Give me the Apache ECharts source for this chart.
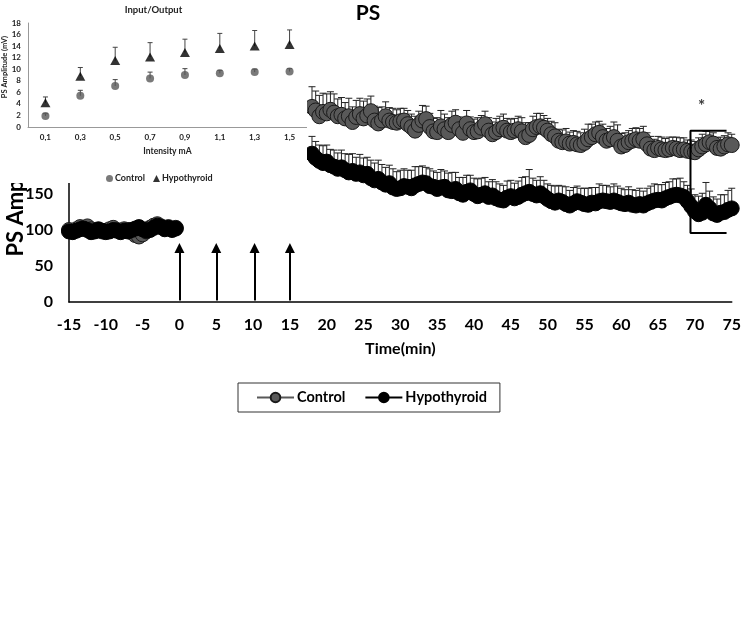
<!DOCTYPE html>
<html><head><meta charset="utf-8">
<script src="https://cdn.jsdelivr.net/npm/echarts@6/dist/echarts.min.js"></script>
<style>
html,body{margin:0;padding:0;background:#fff;}
#main{position:absolute;left:0;top:0;width:744px;height:633px;}
#inset{position:absolute;left:0;top:0;width:307px;height:183px;background:#fff;}
</style></head><body>
<div id="main"></div><div id="inset"></div>
<script>
const FONT = 'Lato';

// ---------- main chart data ----------
const baseTimes = [-15,-14.5,-14,-13.5,-13,-12.5,-12,-11.5,-11,-10.5,-10,-9.5,-9,-8.5,-8,-7.5,-7,-6.5,-6,-5.5,-5,-4.5,-4,-3.5,-3,-2.5,-2,-1.5,-1,-0.5];
const controlBase = [100,98,101,104,103,105,101,99,100,98,99,101,103,100,99,101,100,97,93,91,94,98,103,106,108,105,102,104,101,103];
const hypoBase = [98,97,99,101,102,100,97,98,101,99,97,98,100,99,97,99,98,100,102,104,101,99,100,103,106,104,101,103,100,102];
const controlBaseErr = [4,3,4,5,4,3,4,4,3,4,5,4,3,4,4,3,4,5,4,4,3,4,5,4,4,3,4,4,5,4];
const hypoBaseErr = [3,4,3,4,5,4,3,4,4,3,4,3,4,5,4,3,4,4,3,4,5,4,3,4,4,5,4,3,4,4];

const postTimes = [18,18.5,19,19.5,20,20.5,21,21.5,22,22.5,23,23.5,24,24.5,25,25.5,26,26.5,27,27.5,28,28.5,29,29.5,30,30.5,31,31.5,32,32.5,33,33.5,34,34.5,35,35.5,36,36.5,37,37.5,38,38.5,39,39.5,40,40.5,41,41.5,42,42.5,43,43.5,44,44.5,45,45.5,46,46.5,47,47.5,48,48.5,49,49.5,50,50.5,51,51.5,52,52.5,53,53.5,54,54.5,55,55.5,56,56.5,57,57.5,58,58.5,59,59.5,60,60.5,61,61.5,62,62.5,63,63.5,64,64.5,65,65.5,66,66.5,67,67.5,68,68.5,69,69.5,70,70.5,71,71.5,72,72.5,73,73.5,74,74.5,75];
const controlPost = [
 271,266,258,264,262,267,263,258,
 260,255,258,250,257,261,255,259,
 265,252,248,252,258,252,250,249,
 251,252,247,243,238,246,252,254,
 243,237,236,244,240,236,246,249,
 240,235,248,240,236,237,242,247,
 238,233,236,240,242,238,236,238,
 240,237,229,232,240,243,244,242,
 238,233,230,224,222,223,220,221,
 219,218,221,226,229,233,235,229,
 224,226,229,224,216,218,222,224,
 226,224,226,219,213,211,214,212,
 211,212,214,213,211,212,210,209,
 208,212,216,219,222,220,214,213,
 216,219,218];
const hypoPost = [
 206,200,196,193,195,190,188,185,
 187,183,180,182,178,180,176,178,
 172,169,171,166,163,165,159,157,
 158,161,160,158,162,164,166,165,
 161,160,157,159,160,155,154,157,
 151,149,153,155,150,147,149,151,
 146,148,144,142,141,145,147,144,
 146,149,151,153,150,148,151,147,
 143,140,138,141,139,136,134,137,
 140,138,136,135,138,137,140,141,
 140,139,141,139,137,136,138,135,
 134,136,134,137,139,141,142,141,
 144,146,148,149,148,146,140,133,
 126,122,124,135,130,123,121,124,
 125,128,130];
const controlPostErr = [
 28,27,29,26,27,25,26,24,
 24,22,25,21,23,22,24,23,
 21,20,22,19,20,18,19,18,
 18,17,19,18,20,19,21,18,
 19,18,20,22,21,20,19,18,
 17,19,18,17,18,19,17,18,
 18,17,19,18,19,17,18,17,
 18,19,20,17,18,19,18,17,
 17,18,19,16,17,18,16,17,
 18,17,19,21,18,17,16,18,
 17,18,21,22,18,17,16,17,
 16,17,18,16,17,15,16,17,
 16,17,15,16,17,16,15,16,
 15,16,17,18,16,15,14,16,
 15,16,15];
const hypoPostErr = [
 24,23,22,24,23,22,23,22,
 24,23,25,24,23,25,24,23,
 25,24,26,25,24,25,26,24,
 25,24,23,25,26,24,23,22,
 24,22,23,25,22,24,26,23,
 22,24,23,21,22,24,23,22,
 21,22,23,22,21,23,22,21,
 22,24,23,31,22,21,23,22,
 21,22,23,21,22,24,21,22,
 21,20,22,23,21,22,24,21,
 22,21,23,22,21,20,22,21,
 21,22,20,21,22,23,21,22,
 22,21,23,22,24,21,22,24,
 23,25,27,31,24,23,22,25,
 24,27,28];

const stimTimes = [0, 5, 10.2, 15];        // HFS arrows
const arrowRange = [2, 75];                // arrow shaft from/to (PS amp units)
const sigBracket = {x0: 69.4, x1: 74.3, top: 238, bottom: 96};
const sigStar = [70.9, 272];

// ---------- inset data ----------
const intensityLabels = ['0,1','0,3','0,5','0,7','0,9','1,1','1,3','1,5'];
const ioControl = [1.9, 5.4, 7.1, 8.4, 9.0, 9.3, 9.5, 9.6];
const ioControlErr = [0.4, 0.95, 1.1, 1.1, 1.1, 0.5, 0.5, 0.5];
const ioHypo = [4.2, 8.8, 11.5, 12.1, 12.9, 13.6, 14.0, 14.3];
const ioHypoErr = [1.0, 1.5, 2.3, 2.5, 2.3, 2.6, 2.7, 2.5];

// ---------- helpers ----------
function errRender(capHalf, color, lw){
  return function(params, api){
    const x = api.value(0), y = api.value(1), e = api.value(2);
    const p0 = api.coord([x, y]);
    const p1 = api.coord([x, y + e]);
    return {type:'group', children:[
      {type:'line', shape:{x1:p0[0],y1:p0[1],x2:p1[0],y2:p1[1]}, style:{stroke:color, lineWidth:lw}},
      {type:'line', shape:{x1:p1[0]-capHalf,y1:p1[1],x2:p1[0]+capHalf,y2:p1[1]}, style:{stroke:color, lineWidth:lw}}
    ]};
  };
}
function pairs(times, vals){ return times.map((t,i)=>[t, vals[i]]); }
function triples(times, vals, errs){ return times.map((t,i)=>[t, vals[i], errs[i]]); }

const controlErrData = triples(baseTimes, controlBase, controlBaseErr).concat(triples(postTimes, controlPost, controlPostErr));
const hypoErrData = triples(baseTimes, hypoBase, hypoBaseErr).concat(triples(postTimes, hypoPost, hypoPostErr));

const boldTxt = (size, color) => ({fontFamily:FONT, fontWeight:'bold', fontSize:size, color:color||'#000'});

const ctrlStyle = {symbol:'circle', symbolSize:15, showAllSymbol:true,
  itemStyle:{color:'#595959', borderColor:'#1a1a1a', borderWidth:1}, lineStyle:{color:'#595959', width:3.5}, z:3};
const hypoStyle = {symbol:'circle', symbolSize:15, showAllSymbol:true,
  itemStyle:{color:'#000', borderColor:'#000', borderWidth:1}, lineStyle:{color:'#000', width:3.5}, z:4};

const mainChart = echarts.init(document.getElementById('main'));
mainChart.setOption({
  animation:false,
  grid:{left:69, right:11, top:86, bottom:331},
  xAxis:{type:'value', min:-15, max:75, interval:5,
    axisLine:{onZero:false, lineStyle:{color:'#000', width:1.5}}, axisTick:{show:false}, splitLine:{show:false},
    axisLabel:Object.assign({margin:15}, boldTxt(16)),
    name:'Time(min)', nameLocation:'middle', nameGap:39, nameTextStyle:boldTxt(16)},
  yAxis:{type:'value', min:0, max:300, interval:50,
    axisLine:{show:true, onZero:false, lineStyle:{color:'#000', width:1.5}}, axisTick:{show:false}, splitLine:{show:false},
    axisLabel:Object.assign({margin:16}, boldTxt(16))},
  legend:{data:['Control','Hypothyroid'], left:238, top:383, padding:[7,13,7,18], itemGap:19,
    itemWidth:37, itemHeight:12, borderColor:'#333', borderWidth:1,
    textStyle:Object.assign({padding:[0,0,0,-2]}, boldTxt(14.5))},
  graphic:[
    {type:'text', x:368, y:13, style:{text:'PS', font:'bold 21px '+FONT, fill:'#000', align:'center', verticalAlign:'middle'}},
    {type:'text', x:16, y:218, rotation:Math.PI/2, style:{text:'PS Amp', font:'bold 22px '+FONT, fill:'#000', align:'center', verticalAlign:'middle'}}
  ],
  series:[
    {type:'custom', name:'ctrlErr', renderItem:errRender(3.5,'#222',1), data:controlErrData, encode:{x:0,y:1}, z:1, silent:true},
    {type:'custom', name:'hypoErr', renderItem:errRender(3.5,'#222',1), data:hypoErrData, encode:{x:0,y:1}, z:1, silent:true},
    Object.assign({type:'line', name:'Control', data:pairs(baseTimes, controlBase)}, ctrlStyle),
    Object.assign({type:'line', name:'Control', data:pairs(postTimes, controlPost)}, ctrlStyle),
    Object.assign({type:'line', name:'Hypothyroid', data:pairs(baseTimes, hypoBase)}, hypoStyle),
    Object.assign({type:'line', name:'Hypothyroid', data:pairs(postTimes, hypoPost)}, hypoStyle),
    {type:'line', name:'bracket', data:[[sigBracket.x1, sigBracket.top],[sigBracket.x0, sigBracket.top],[sigBracket.x0, sigBracket.bottom],[sigBracket.x1, sigBracket.bottom]],
      showSymbol:false, symbol:'none', lineStyle:{color:'#000', width:2}, z:5, silent:true,
      markLine:{silent:true, symbol:['none','triangle'], symbolSize:[10,10], label:{show:false},
        lineStyle:{color:'#000', width:2, type:'solid'},
        emphasis:{disabled:true},
        data: stimTimes.map(t => [{coord:[t, arrowRange[0]]},{coord:[t, arrowRange[1]]}])}},
    {type:'scatter', name:'star', data:[sigStar], symbol:'circle', symbolSize:1, itemStyle:{color:'rgba(0,0,0,0)'},
      label:{show:true, position:'inside', formatter:'*', fontFamily:FONT, fontWeight:'bold', fontSize:17, color:'#000'}, z:6, silent:true}
  ]
});

const insetChart = echarts.init(document.getElementById('inset'));
insetChart.setOption({
  animation:false,
  backgroundColor:'#fff',
  title:{text:'Input/Output', left:'center', top:0, textStyle:boldTxt(9.5,'#222')},
  grid:{left:28, top:23, width:279, height:104},
  xAxis:{type:'category', data:intensityLabels, axisLine:{lineStyle:{color:'#999', width:1}}, axisTick:{show:false},
    axisLabel:Object.assign({margin:6}, boldTxt(8,'#222')),
    name:'Intensity mA', nameLocation:'middle', nameGap:20, nameTextStyle:boldTxt(8.5,'#222')},
  yAxis:{type:'value', min:0, max:18, interval:2, axisLine:{show:true, lineStyle:{color:'#999', width:1}}, axisTick:{show:false},
    splitLine:{show:false}, axisLabel:Object.assign({margin:7}, boldTxt(8,'#222'))},
  legend:{data:[{name:'Control', icon:'circle'},{name:'Hypothyroid', icon:'triangle'}], left:101, top:169,
    itemWidth:7, itemHeight:7, itemGap:8, textStyle:Object.assign({padding:[0,0,0,-3]}, boldTxt(9,'#222'))},
  graphic:[{type:'text', x:5, y:67, rotation:Math.PI/2, style:{text:'PS Amplitude (mV)', font:'bold 7.5px '+FONT, fill:'#222', align:'center', verticalAlign:'middle'}}],
  series:[
    {type:'custom', renderItem:errRender(2.5,'#444',1), data:ioControl.map((v,i)=>[i, v, ioControlErr[i]]), encode:{x:0,y:1}, z:1, silent:true},
    {type:'custom', renderItem:errRender(2.5,'#444',1), data:ioHypo.map((v,i)=>[i, v, ioHypoErr[i]]), encode:{x:0,y:1}, z:1, silent:true},
    {type:'scatter', name:'Control', data:ioControl, symbol:'circle', symbolSize:8, itemStyle:{color:'#595959'}, z:3},
    {type:'scatter', name:'Hypothyroid', data:ioHypo, symbol:'triangle', symbolSize:[10,9], itemStyle:{color:'#000'}, z:3}
  ]
});
</script>
</body></html>
